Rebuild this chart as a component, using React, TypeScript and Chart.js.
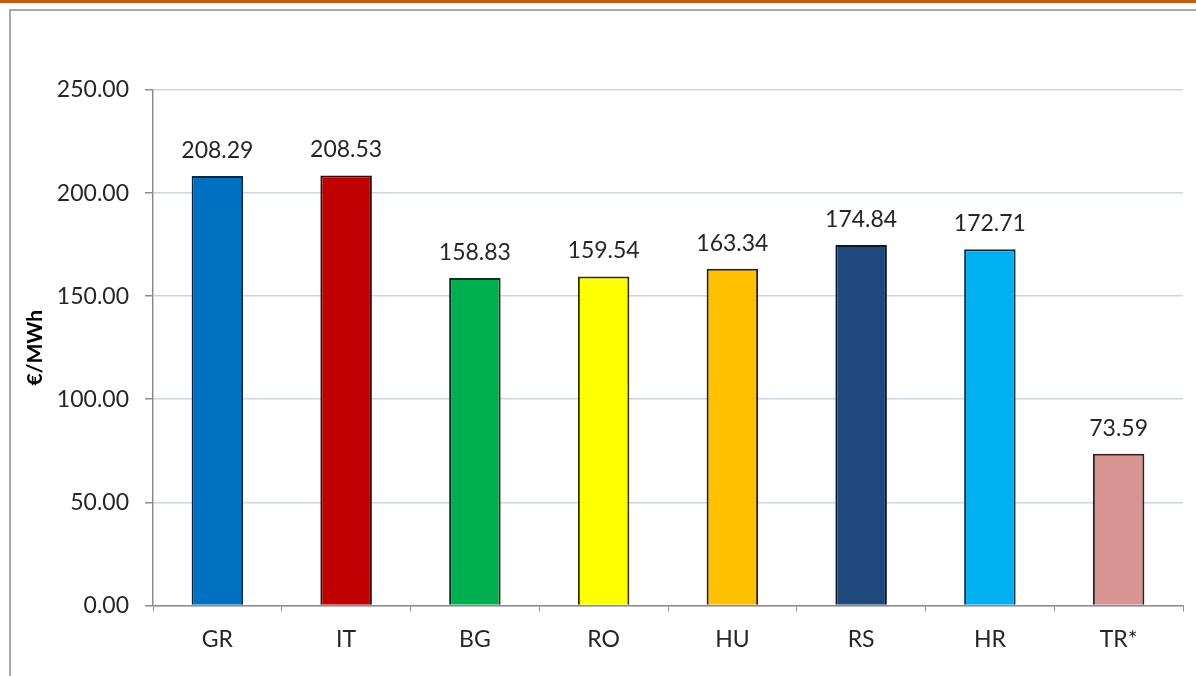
import React, { useEffect, useRef } from "react";
import { Chart, registerables } from "chart.js";

Chart.register(...registerables);

const categories = ["GR", "IT", "BG", "RO", "HU", "RS", "HR", "TR*"];
const values = [208.29, 208.53, 158.83, 159.54, 163.34, 174.84, 172.71, 73.59];
const barColors = ["#0070C0", "#C00000", "#00B050", "#FFFF00", "#FFC000", "#1F497D", "#00B0F0", "#D99594"];
const borderColors = ["#0a2540", "#3a0000", "#08301a", "#303000", "#302000", "#0a1528", "#0a3045", "#302020"];
const yTitle = "€/MWh";

const FONT = "Lato, 'Open Sans', sans-serif";

const labelPlugin = {
  id: "barLabels",
  afterDatasetsDraw(chart: any) {
    const ctx = chart.ctx;
    const meta = chart.getDatasetMeta(0);
    ctx.save();
    ctx.font = `23px ${FONT}`;
    ctx.fillStyle = "#262626";
    ctx.textAlign = "center";
    ctx.textBaseline = "alphabetic";
    meta.data.forEach((el: any, i: number) => {
      ctx.fillText(values[i].toFixed(2), el.x, el.y - 18);
    });
    ctx.restore();
  },
};

export default function App() {
  const ref = useRef<HTMLCanvasElement>(null);
  useEffect(() => {
    document.body.style.margin = "0";
    const chart = new Chart(ref.current!, {
      type: "bar",
      data: {
        labels: categories,
        datasets: [
          {
            data: values,
            backgroundColor: barColors,
            borderColor: borderColors,
            borderWidth: 2,
            categoryPercentage: 1,
            barPercentage: 0.4,
          },
        ],
      },
      options: {
        animation: false,
        responsive: false,
        maintainAspectRatio: false,
        layout: { padding: { left: 0, right: 13, top: 90, bottom: 9 } },
        plugins: { legend: { display: false }, tooltip: { enabled: false } },
        scales: {
          x: {
            grid: {
              drawOnChartArea: false,
              drawTicks: true,
              tickLength: 6,
              color: "#8c8c8c",
              tickColor: "#8c8c8c",
            },
            border: { color: "#8c8c8c", width: 1.5 },
            ticks: { color: "#262626", font: { family: FONT, size: 23 }, padding: 14 },
          },
          y: {
            min: 0,
            max: 250,
            afterFit: (s: any) => {
              s.width = 153;
            },
            grid: {
              color: "#ccd6e2",
              lineWidth: 1.5,
              tickColor: "#8c8c8c",
              tickLength: 8,
            },
            border: { color: "#8c8c8c", width: 1.5 },
            ticks: {
              stepSize: 50,
              color: "#262626",
              font: { family: FONT, size: 23 },
              padding: 16,
              callback: (v: any) => Number(v).toFixed(2),
            },
            title: {
              display: true,
              text: yTitle,
              color: "#000",
              font: { family: FONT, size: 21, weight: "bold" },
              padding: { top: 23, bottom: 0 },
            },
          },
        },
      },
      plugins: [labelPlugin],
    });
    return () => chart.destroy();
  }, []);
  return (
    <div style={{ position: "fixed", left: 0, top: 0, width: 1196, height: 676, background: "#fff", overflow: "hidden" }}>
      <div style={{ position: "absolute", left: 0, top: 0, width: 1196, height: 3, background: "#C55A11" }} />
      <div style={{ position: "absolute", left: 9, top: 9, width: 1200, height: 700, borderLeft: "2px solid #a8a8a8", borderTop: "2px solid #a8a8a8" }} />
      <canvas ref={ref} width={1196} height={676} style={{ position: "absolute", left: 0, top: 0 }} />
    </div>
  );
}
